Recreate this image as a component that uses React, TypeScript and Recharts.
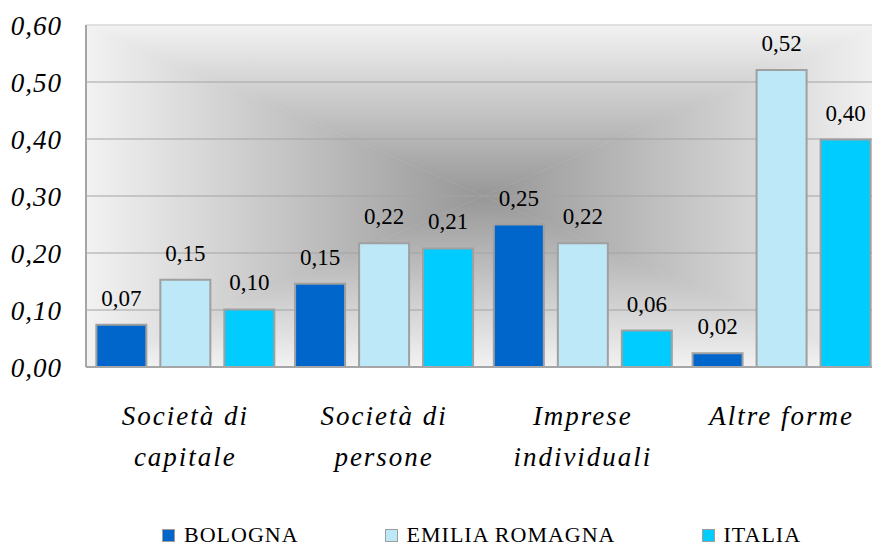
import React from 'react'
import { BarChart, Bar, XAxis, YAxis, ReferenceArea, LabelList, Legend } from 'recharts'

const categories = ['Società di capitale', 'Società di persone', 'Imprese individuali', 'Altre forme']
const bologna = [0.074, 0.146, 0.25, 0.024]
const emiliaRomagna = [0.153, 0.217, 0.217, 0.521]
const italia = [0.101, 0.208, 0.064, 0.399]
const yTicks = [0, 0.1, 0.2, 0.3, 0.4, 0.5, 0.6]

const series = [
  { key: 'bologna', name: 'BOLOGNA', color: '#0066cc' },
  { key: 'emilia', name: 'EMILIA ROMAGNA', color: '#bde8f7' },
  { key: 'italia', name: 'ITALIA', color: '#00ccff' },
]

const data = categories.map((name, i) => ({
  name,
  bologna: bologna[i],
  emilia: emiliaRomagna[i],
  italia: italia[i],
}))

const SERIF = "'Liberation Serif', 'DejaVu Serif', 'Times New Roman', Times, serif"
const EDGE = '#f2f2f2'
const CENTER = '#979797'

const fmt = (v: any) => Number(v).toFixed(2).replace('.', ',')

// long labels break before their last word, like the original
const splitLabel = (s: string) => {
  if (s.length <= 12) return [s]
  const cut = s.lastIndexOf(' ')
  return [s.slice(0, cut), s.slice(cut + 1)]
}

// Excel-style "from centre" rectangular gradient plus the horizontal gridlines
function PlotBackground(props: any) {
  const { x, y, width: w, height: h } = props
  const cx = x + w / 2
  const cy = y + h / 2
  const max = yTicks[yTicks.length - 1]
  const gridYs = yTicks.slice(1, -1).map((t) => y + h * (1 - t / max))
  const stops = (
    <>
      <stop offset="0" stopColor={EDGE} />
      <stop offset="1" stopColor={CENTER} />
    </>
  )
  return (
    <g>
      <defs>
        <linearGradient id="bgTop" gradientUnits="userSpaceOnUse" x1={0} y1={y} x2={0} y2={cy}>{stops}</linearGradient>
        <linearGradient id="bgBottom" gradientUnits="userSpaceOnUse" x1={0} y1={y + h} x2={0} y2={cy}>{stops}</linearGradient>
        <linearGradient id="bgLeft" gradientUnits="userSpaceOnUse" x1={x} y1={0} x2={cx} y2={0}>{stops}</linearGradient>
        <linearGradient id="bgRight" gradientUnits="userSpaceOnUse" x1={x + w} y1={0} x2={cx} y2={0}>{stops}</linearGradient>
      </defs>
      <polygon points={`${x},${y} ${x + w},${y} ${cx},${cy}`} fill="url(#bgTop)" stroke="url(#bgTop)" strokeWidth={0.5} />
      <polygon points={`${x},${y + h} ${x + w},${y + h} ${cx},${cy}`} fill="url(#bgBottom)" stroke="url(#bgBottom)" strokeWidth={0.5} />
      <polygon points={`${x},${y} ${x},${y + h} ${cx},${cy}`} fill="url(#bgLeft)" stroke="url(#bgLeft)" strokeWidth={0.5} />
      <polygon points={`${x + w},${y} ${x + w},${y + h} ${cx},${cy}`} fill="url(#bgRight)" stroke="url(#bgRight)" strokeWidth={0.5} />
      {gridYs.map((gy) => (
        <line key={gy} x1={x} x2={x + w} y1={gy} y2={gy} stroke="#a3a3a3" strokeWidth={1.2} />
      ))}
      <line x1={x} x2={x + w} y1={y} y2={y} stroke="#d9d9d9" strokeWidth={1.5} />
    </g>
  )
}

function CategoryTick({ x, y, payload }: any) {
  const lines = splitLabel(String(payload.value))
  return (
    <text
      x={x}
      y={y + 58}
      textAnchor="middle"
      fill="#000"
      fontFamily={SERIF}
      fontStyle="italic"
      fontSize={27}
      letterSpacing={2}
    >
      {lines.map((l, i) => (
        <tspan key={i} x={x} dy={i === 0 ? 0 : 41}>
          {l}
        </tspan>
      ))}
    </text>
  )
}

function LegendContent() {
  return (
    <div style={{ display: 'flex', alignItems: 'center', paddingLeft: 162, gap: 86, height: 24 }}>
      {series.map((s) => (
        <div key={s.key} style={{ display: 'flex', alignItems: 'center', gap: 9 }}>
          <span
            style={{
              display: 'inline-block',
              width: 11,
              height: 11,
              background: s.color,
              border: '1.5px solid #9e9e9e',
            }}
          />
          <span style={{ fontFamily: SERIF, fontSize: 22, letterSpacing: 1, lineHeight: '24px', color: '#000' }}>
            {s.name}
          </span>
        </div>
      ))}
    </div>
  )
}

export default function App() {
  return (
    <div style={{ position: 'absolute', left: 0, top: 0, width: 872, height: 547, overflow: 'hidden', background: '#fff' }}>
      <BarChart
        width={881}
        height={547}
        data={data}
        margin={{ top: 25, right: 0, left: 0, bottom: 0 }}
        barCategoryGap="5.2%"
        barGap={14}
      >
        <ReferenceArea y1={0} y2={0.6} shape={<PlotBackground />} />
        <XAxis
          dataKey="name"
          height={156}
          tickLine={false}
          tickSize={0}
          tickMargin={0}
          axisLine={{ stroke: '#a6a6a6', strokeWidth: 2 }}
          tick={<CategoryTick />}
          interval={0}
        />
        <YAxis
          width={86}
          domain={[0, 0.6]}
          ticks={yTicks}
          tickFormatter={fmt}
          tickLine={false}
          tickSize={0}
          tickMargin={24}
          axisLine={{ stroke: '#a6a6a6', strokeWidth: 2 }}
          tick={{ fill: '#000', fontFamily: SERIF, fontStyle: 'italic', fontSize: 27, letterSpacing: 1 }}
        />
        {series.map((s) => (
          <Bar
            key={s.key}
            dataKey={s.key}
            name={s.name}
            fill={s.color}
            stroke="#a0a0a0"
            strokeWidth={2}
            isAnimationActive={false}
          >
            <LabelList
              dataKey={s.key}
              position="top"
              offset={19}
              formatter={fmt}
              fill="#000"
              fontFamily={SERIF}
              fontSize={23}
            />
          </Bar>
        ))}
        <Legend
          verticalAlign="bottom"
          align="left"
          content={<LegendContent />}
          wrapperStyle={{ left: 0, bottom: 0, width: 881 }}
        />
      </BarChart>
    </div>
  )
}
